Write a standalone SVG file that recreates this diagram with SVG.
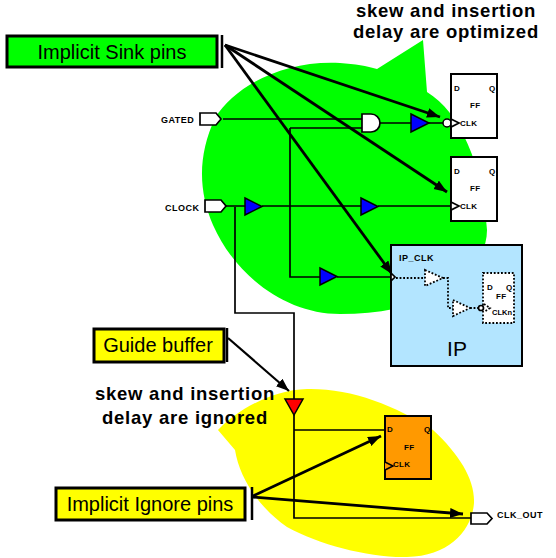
<svg xmlns="http://www.w3.org/2000/svg" width="556" height="558" viewBox="0 0 556 558">
<style>
text{font-family:"Liberation Sans",Arial,sans-serif;fill:#000}
.note{font-size:18.500px;font-weight:bold;text-anchor:middle;letter-spacing:.75px}
.box{stroke:#000;stroke-width:3;fill:#ff0}
.lbl{font-size:20px;text-anchor:middle}
.sm{font-size:9px;font-weight:bold;letter-spacing:.5px}
.xs{font-size:8px;font-weight:bold;letter-spacing:.3px}
.w{fill:none;stroke:#000;stroke-width:1.700}
.a{stroke:#000;stroke-width:2.800;fill:none;marker-end:url(#ah)}
.bar{stroke:#000;stroke-width:2.500}
.ff{fill:#fff;stroke:#000;stroke-width:2}
.pin{fill:#fff;stroke:#000;stroke-width:1.700}
.buf{fill:#00f;stroke:#000;stroke-width:1.500}
.d{fill:none;stroke:#000;stroke-width:1.800;stroke-dasharray:1.800 1.800}
</style>
<defs><marker id="ah" markerUnits="userSpaceOnUse" markerWidth="14" markerHeight="12" refX="13" refY="5" orient="auto"><path d="M0 0L13 5L0 10Z" fill="#000"/></marker></defs>
<path id="green-blob" fill="#0f0" d="M377 69L423 40L427 92C460 112 483 165 487 230C487 270 440 314 340 314C285 314 235 275 213 225C198 190 198 155 215 118C235 85 285 60 340 63C355 64 367 66 377 69Z"/>
<path id="yellow-blob" fill="#ff0" d="M218 430C235 412 270 390 307 389C350 388 395 405 433 430C460 455 475 480 474 503C472 530 450 556 407 557C370 558 320 545 287 527C260 508 240 480 235 450Z"/>
<g id="connectors">
<path class="w" d="M223 119H362M290 128H362M290 128V277H320M337 277H392M380 123H411M429 123H443M226 206H245M262 206H361M378 206H451M235 207V313H294V399M294 415V518H471M294 430H385"/>
<path class="a" d="M225 45L440 117"/>
<path class="a" d="M225 45L447 192"/>
<path class="a" d="M225 45L392 274"/>
<path class="a" style="stroke-width:2.200" d="M228 338L289 391"/>
<path class="a" d="M253 496L381 436"/>
<path class="a" d="M253 497L463 514"/>
</g>
<g id="sink-note"><rect x="7" y="36" width="210" height="31" fill="#0f0" stroke="#000" stroke-width="3"/><text class="lbl" x="112" y="59">Implicit Sink pins</text><path class="bar" d="M222 35V68"/></g>
<g id="guide-note"><rect class="box" x="94" y="329" width="130" height="33"/><text class="lbl" x="158" y="352">Guide buffer</text><path class="bar" d="M227 328V362"/></g>
<g id="ignore-note"><rect class="box" x="56" y="488" width="189" height="32"/><text class="lbl" x="150" y="511">Implicit Ignore pins</text><path class="bar" d="M252 487V520"/></g>
<g id="note-optimized"><text class="note" x="446" y="17">skew and insertion</text><text class="note" x="446" y="38">delay are optimized</text></g>
<g id="note-ignored"><text class="note" x="185" y="400">skew and insertion</text><text class="note" x="185" y="424">delay are ignored</text></g>
<g id="gated"><path class="pin" d="M200 113H216L221 119L216 125H200Z"/><text class="sm" x="161" y="123">GATED</text></g>
<g id="clock"><path class="pin" d="M205 200H221L226 206L221 212H205Z"/><text class="sm" x="165" y="211">CLOCK</text></g>
<g id="and-gate"><path class="pin" d="M362 114H371A9 9 0 0 1 371 132H362Z"/></g>
<g id="buf-1"><path class="buf" d="M411 114L429 123L411 132Z"/></g>
<g id="buf-2"><path class="buf" d="M245 198L262 206.500L245 215Z"/></g>
<g id="buf-3"><path class="buf" d="M361 198L378 206.500L361 215Z"/></g>
<g id="buf-4"><path class="buf" d="M320 268L337 276.500L320 285Z"/></g>
<g id="ff-1"><rect class="ff" x="451" y="74" width="46" height="64"/><circle cx="447" cy="123" r="4" fill="#fff" stroke="#000" stroke-width="1.500"/><path class="pin" d="M451 119L459 123L451 127Z"/><text class="xs" x="454" y="91">D</text><text class="xs" x="489" y="91">Q</text><text class="xs" x="470" y="108">FF</text><text class="xs" x="460" y="126">CLK</text></g>
<g id="ff-2"><rect class="ff" x="451" y="157" width="46" height="64"/><path class="pin" d="M451 202L459 206L451 210Z"/><text class="xs" x="454" y="174">D</text><text class="xs" x="489" y="174">Q</text><text class="xs" x="470" y="191">FF</text><text class="xs" x="460" y="209">CLK</text></g>
<g id="ip"><rect x="391" y="245" width="131" height="121" fill="#b3e5ff" stroke="#000" stroke-width="2"/><path class="pin" d="M391 273L395 277L391 281Z"/>
<path class="d" d="M396 278H425M443 278H448V308H453M470 308H478"/>
<path class="d" style="fill:#fff" d="M425 270L443 278L425 286Z"/><path class="d" style="fill:#fff" d="M453 300L470 308L453 316Z"/>
<rect class="d" style="fill:#fff" x="483" y="273" width="31" height="50"/><circle cx="481" cy="308" r="2.500" fill="#fff" stroke="#000" stroke-width="1.700"/><path class="d" d="M484 304L490 308L484 312"/>
<text class="sm" x="399" y="261">IP_CLK</text><text class="xs" x="487" y="290">D</text><text class="xs" x="506" y="290">Q</text><text class="xs" x="496" y="299">FF</text><text class="xs" style="font-size:7.500px;letter-spacing:0" x="492" y="315">CLKn</text><text x="457" y="356" font-size="21" text-anchor="middle">IP</text></g>
<g id="guide-buffer"><path d="M285 399H303L294 415Z" fill="#f00" stroke="#000" stroke-width="1.500"/></g>
<g id="ff-3"><rect class="ff" style="fill:#f90" x="385" y="416" width="46" height="63"/><path d="M385 462L393 466L385 470" fill="#f90" stroke="#000" stroke-width="1.500"/><text class="xs" x="387" y="432">D</text><text class="xs" x="424" y="432">Q</text><text class="xs" x="404" y="450">FF</text><text class="xs" x="393" y="467">CLK</text></g>
<g id="clk-out"><path class="pin" d="M471 513H487L492 518.500L487 524H471Z"/><text class="sm" x="497" y="518">CLK_OUT</text></g>
</svg>
